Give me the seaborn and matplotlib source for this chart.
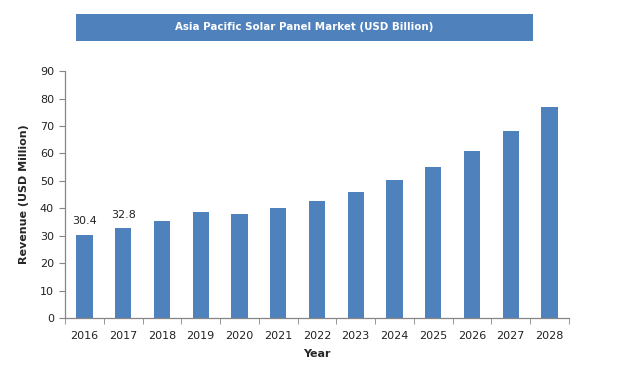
import seaborn as sns
import matplotlib.pyplot as plt
import pandas as pd
from matplotlib.patches import Rectangle

# data
years = ["2016", "2017", "2018", "2019", "2020", "2021", "2022",
         "2023", "2024", "2025", "2026", "2027", "2028"]
revenue = [30.4, 32.8, 35.3, 38.6, 37.9, 40.1, 42.6,
           46.0, 50.4, 55.1, 61.0, 68.3, 77.0]
labelled = {"2016": "30.4", "2017": "32.8"}

title = "Asia Pacific Solar Panel Market (USD Billion)"
bar_color = "#4F81BD"

sns.set_style("white")
plt.rcParams["font.family"] = ["DejaVu Sans"]

df = pd.DataFrame({"Year": years, "Revenue": revenue})

fig = plt.figure(figsize=(6.19, 3.80), dpi=100)
ax = fig.add_axes([0.105, 0.163, 0.814, 0.650])

sns.barplot(data=df, x="Year", y="Revenue", color=bar_color,
            width=0.42, saturation=1, linewidth=0, ax=ax)

for i, yr in enumerate(years):
    if yr in labelled:
        ax.text(i, revenue[i] + 3, labelled[yr], ha="center", va="bottom",
                fontsize=8, color="#222222")

ax.set_ylim(0, 90)
ax.set_yticks(range(0, 91, 10))
ax.set_xlim(-0.5, len(years) - 0.5)

# Excel-style ticks on category boundaries
ax.set_xticks([i - 0.5 for i in range(len(years) + 1)], minor=True)
ax.tick_params(axis="x", which="major", length=0, labelsize=8, pad=9, colors="#222222")
ax.tick_params(axis="x", which="minor", length=4, color="#868686", direction="out", bottom=True)
ax.tick_params(axis="y", length=4, color="#868686", direction="out", left=True,
               labelsize=8, colors="#222222", pad=4)

for side in ["top", "right"]:
    ax.spines[side].set_visible(False)
for side in ["left", "bottom"]:
    ax.spines[side].set_color("#868686")
    ax.spines[side].set_linewidth(0.9)

ax.set_xlabel("Year", fontsize=8, fontweight="bold", labelpad=6)
ax.set_ylabel("Revenue (USD Million)", fontsize=8, fontweight="bold", labelpad=8)

# title banner
fig.patches.append(Rectangle((0.123, 0.892), 0.738, 0.071, transform=fig.transFigure,
                             facecolor=bar_color, edgecolor="none"))
fig.text(0.492, 0.93, title, ha="center", va="center", color="white",
         fontsize=7.4, fontweight="bold")

fig.savefig("out.png", dpi=100)
